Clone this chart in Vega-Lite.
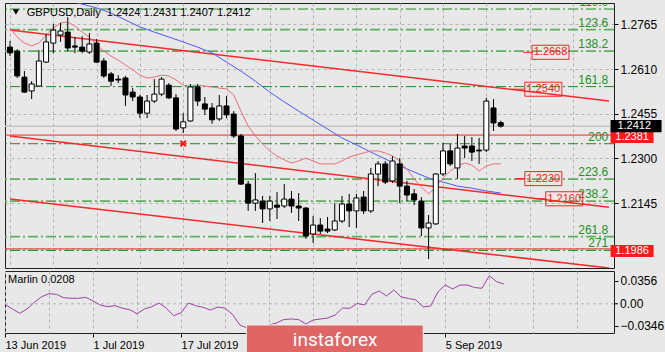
{
"$schema":"https://vega.github.io/schema/vega-lite/v6.json",
"background":"#e8e8e8",
"padding":{"left":3,"top":2,"right":0,"bottom":0},
"spacing":1,
"config":{"view":{"stroke":"#202020","strokeWidth":1,"fill":"#e8e8e8"},"font":"Liberation Sans","axis":{"labelFont":"Liberation Sans","labelColor":"#000000","tickColor":"#000000"}},
"datasets":{
"candles":[
{"i":0,"o":1.2686,"h":1.2707,"l":1.2655,"c":1.2666},
{"i":1,"o":1.2672,"h":1.2679,"l":1.2579,"c":1.2586},
{"i":2,"o":1.2582,"h":1.2603,"l":1.2527,"c":1.2530},
{"i":3,"o":1.2534,"h":1.2568,"l":1.2506,"c":1.2558},
{"i":4,"o":1.2551,"h":1.2676,"l":1.2548,"c":1.2638},
{"i":5,"o":1.2634,"h":1.2731,"l":1.2631,"c":1.2704},
{"i":6,"o":1.2700,"h":1.2766,"l":1.2665,"c":1.2745},
{"i":7,"o":1.2728,"h":1.2770,"l":1.2704,"c":1.2742},
{"i":8,"o":1.2738,"h":1.2790,"l":1.2672,"c":1.2683},
{"i":9,"o":1.2690,"h":1.2721,"l":1.2665,"c":1.2686},
{"i":10,"o":1.2686,"h":1.2724,"l":1.2665,"c":1.2672},
{"i":11,"o":1.2669,"h":1.2735,"l":1.2662,"c":1.2697},
{"i":12,"o":1.2700,"h":1.2714,"l":1.2631,"c":1.2634},
{"i":13,"o":1.2638,"h":1.2648,"l":1.2579,"c":1.2586},
{"i":14,"o":1.2593,"h":1.2600,"l":1.2551,"c":1.2568},
{"i":15,"o":1.2575,"h":1.2589,"l":1.2561,"c":1.2572},
{"i":16,"o":1.2579,"h":1.2586,"l":1.2482,"c":1.2520},
{"i":17,"o":1.2530,"h":1.2544,"l":1.2499,"c":1.2513},
{"i":18,"o":1.2513,"h":1.2520,"l":1.2440,"c":1.2457},
{"i":19,"o":1.2457,"h":1.2520,"l":1.2440,"c":1.2499},
{"i":20,"o":1.2499,"h":1.2575,"l":1.2492,"c":1.2523},
{"i":21,"o":1.2523,"h":1.2582,"l":1.2516,"c":1.2575},
{"i":22,"o":1.2554,"h":1.2561,"l":1.2506,"c":1.2510},
{"i":23,"o":1.2510,"h":1.2523,"l":1.2395,"c":1.2402},
{"i":24,"o":1.2406,"h":1.2457,"l":1.2388,"c":1.2427},
{"i":25,"o":1.2430,"h":1.2558,"l":1.2427,"c":1.2548},
{"i":26,"o":1.2548,"h":1.2558,"l":1.2482,"c":1.2499},
{"i":27,"o":1.2489,"h":1.2513,"l":1.2451,"c":1.2471},
{"i":28,"o":1.2475,"h":1.2492,"l":1.2420,"c":1.2434},
{"i":29,"o":1.2437,"h":1.2520,"l":1.2430,"c":1.2482},
{"i":30,"o":1.2482,"h":1.2516,"l":1.2440,"c":1.2451},
{"i":31,"o":1.2454,"h":1.2464,"l":1.2371,"c":1.2378},
{"i":32,"o":1.2378,"h":1.2385,"l":1.2208,"c":1.2211},
{"i":33,"o":1.2211,"h":1.2222,"l":1.2118,"c":1.2145},
{"i":34,"o":1.2145,"h":1.2249,"l":1.2118,"c":1.2156},
{"i":35,"o":1.2152,"h":1.2170,"l":1.2076,"c":1.2125},
{"i":36,"o":1.2125,"h":1.2170,"l":1.2083,"c":1.2152},
{"i":37,"o":1.2138,"h":1.2183,"l":1.2090,"c":1.2131},
{"i":38,"o":1.2135,"h":1.2211,"l":1.2128,"c":1.2159},
{"i":39,"o":1.2159,"h":1.2187,"l":1.2111,"c":1.2135},
{"i":40,"o":1.2135,"h":1.2180,"l":1.2083,"c":1.2128},
{"i":41,"o":1.2128,"h":1.2131,"l":1.2021,"c":1.2031},
{"i":42,"o":1.2038,"h":1.2100,"l":1.2007,"c":1.2069},
{"i":43,"o":1.2069,"h":1.2093,"l":1.2038,"c":1.2048},
{"i":44,"o":1.2055,"h":1.2097,"l":1.2041,"c":1.2048},
{"i":45,"o":1.2052,"h":1.2145,"l":1.2048,"c":1.2083},
{"i":46,"o":1.2083,"h":1.2170,"l":1.2076,"c":1.2142},
{"i":47,"o":1.2142,"h":1.2177,"l":1.2062,"c":1.2118},
{"i":48,"o":1.2118,"h":1.2177,"l":1.2059,"c":1.2163},
{"i":49,"o":1.2166,"h":1.2187,"l":1.2107,"c":1.2118},
{"i":50,"o":1.2118,"h":1.2267,"l":1.2111,"c":1.2246},
{"i":51,"o":1.2246,"h":1.2291,"l":1.2204,"c":1.2281},
{"i":52,"o":1.2281,"h":1.2291,"l":1.2211,"c":1.2218},
{"i":53,"o":1.2222,"h":1.2308,"l":1.2215,"c":1.2291},
{"i":54,"o":1.2281,"h":1.2301,"l":1.2145,"c":1.2204},
{"i":55,"o":1.2204,"h":1.2222,"l":1.2152,"c":1.2173},
{"i":56,"o":1.2177,"h":1.2194,"l":1.2138,"c":1.2156},
{"i":57,"o":1.2152,"h":1.2166,"l":1.2031,"c":1.2059},
{"i":58,"o":1.2059,"h":1.2104,"l":1.1951,"c":1.2076},
{"i":59,"o":1.2073,"h":1.2249,"l":1.2069,"c":1.2246},
{"i":60,"o":1.2246,"h":1.2353,"l":1.2239,"c":1.2326},
{"i":61,"o":1.2326,"h":1.2350,"l":1.2274,"c":1.2281},
{"i":62,"o":1.2267,"h":1.2385,"l":1.2229,"c":1.2336},
{"i":63,"o":1.2343,"h":1.2378,"l":1.2301,"c":1.2336},
{"i":64,"o":1.2343,"h":1.2374,"l":1.2291,"c":1.2322},
{"i":65,"o":1.2329,"h":1.2371,"l":1.2281,"c":1.2326},
{"i":66,"o":1.2329,"h":1.2510,"l":1.2322,"c":1.2499},
{"i":67,"o":1.2475,"h":1.2506,"l":1.2395,"c":1.2423},
{"i":68,"o":1.2424,"h":1.2431,"l":1.2407,"c":1.2412}
],
"pink":[{"i":0,"p":1.2752},{"i":1,"p":1.2721},{"i":2,"p":1.2700},{"i":3,"p":1.2690},{"i":4,"p":1.2700},{"i":5,"p":1.2728},{"i":6,"p":1.2752},{"i":7,"p":1.2770},{"i":8,"p":1.2773},{"i":9,"p":1.2759},{"i":10,"p":1.2738},{"i":11,"p":1.2721},{"i":12,"p":1.2693},{"i":13,"p":1.2672},{"i":14,"p":1.2655},{"i":15,"p":1.2641},{"i":16,"p":1.2624},{"i":17,"p":1.2607},{"i":18,"p":1.2589},{"i":19,"p":1.2579},{"i":20,"p":1.2582},{"i":21,"p":1.2589},{"i":22,"p":1.2586},{"i":23,"p":1.2572},{"i":24,"p":1.2554},{"i":25,"p":1.2551},{"i":26,"p":1.2554},{"i":27,"p":1.2551},{"i":28,"p":1.2548},{"i":29,"p":1.2544},{"i":30,"p":1.2541},{"i":31,"p":1.2520},{"i":32,"p":1.2464},{"i":33,"p":1.2412},{"i":34,"p":1.2378},{"i":35,"p":1.2350},{"i":36,"p":1.2326},{"i":37,"p":1.2308},{"i":38,"p":1.2295},{"i":39,"p":1.2284},{"i":40,"p":1.2291},{"i":41,"p":1.2301},{"i":42,"p":1.2291},{"i":43,"p":1.2281},{"i":44,"p":1.2281},{"i":45,"p":1.2281},{"i":46,"p":1.2291},{"i":47,"p":1.2305},{"i":48,"p":1.2312},{"i":49,"p":1.2319},{"i":50,"p":1.2326},{"i":51,"p":1.2326},{"i":52,"p":1.2319},{"i":53,"p":1.2308},{"i":54,"p":1.2291},{"i":55,"p":1.2263},{"i":56,"p":1.2229},{"i":57,"p":1.2201},{"i":58,"p":1.2177},{"i":59,"p":1.2201},{"i":60,"p":1.2232},{"i":61,"p":1.2256},{"i":62,"p":1.2274},{"i":63,"p":1.2284},{"i":64,"p":1.2277},{"i":65,"p":1.2256},{"i":66,"p":1.2274},{"i":67,"p":1.2281},{"i":68,"p":1.2281}],
"blue":[{"i":5,"p":1.2873},{"i":8,"p":1.2849},{"i":10,"p":1.2835},{"i":12,"p":1.2822},{"i":14,"p":1.2804},{"i":16,"p":1.2780},{"i":18,"p":1.2756},{"i":20,"p":1.2738},{"i":22,"p":1.2721},{"i":24,"p":1.2704},{"i":26,"p":1.2686},{"i":28,"p":1.2666},{"i":30,"p":1.2634},{"i":32,"p":1.2603},{"i":34,"p":1.2568},{"i":36,"p":1.2530},{"i":38,"p":1.2496},{"i":40,"p":1.2464},{"i":42,"p":1.2433},{"i":44,"p":1.2402},{"i":46,"p":1.2371},{"i":48,"p":1.2347},{"i":50,"p":1.2322},{"i":52,"p":1.2298},{"i":54,"p":1.2274},{"i":56,"p":1.2253},{"i":58,"p":1.2232},{"i":60,"p":1.2218},{"i":62,"p":1.2204},{"i":64,"p":1.2197},{"i":66,"p":1.2187},{"i":68,"p":1.2180}],
"trend":[{"t":"a","i":0,"p":1.2745},{"t":"a","i":83,"p":1.2499},{"t":"b","i":0,"p":1.2378},{"t":"b","i":83,"p":1.2131},{"t":"c","i":0,"p":1.2159},{"t":"c","i":83,"p":1.1920}],
"fib":[{"lvl":"110.0","p":1.2818},{"lvl":"123.6","p":1.2747},{"lvl":"138.2","p":1.2672},{"lvl":"161.8","p":1.2549},{"lvl":"200","p":1.2351},{"lvl":"223.6","p":1.2228},{"lvl":"238.2","p":1.2152},{"lvl":"261.8","p":1.2029},{"lvl":"271","p":1.1981}],
"hlines":[{"p":1.2381},{"p":1.1986}],
"bid":[{"p":1.2412}],
"plabels":[{"p":1.2668,"i":74.9,"i0":71.1},{"p":1.2540,"i":73.9,"i0":69.5},{"p":1.2230,"i":73.9,"i0":70.0},{"p":1.2160,"i":76.8,"i0":72.9}],
"marlin":[{"i":0,"v":-0.0008},{"i":1,"v":-0.0081},{"i":2,"v":-0.0148},{"i":3,"v":-0.0081},{"i":4,"v":0.0023},{"i":5,"v":0.0111},{"i":6,"v":0.0158},{"i":7,"v":0.0148},{"i":8,"v":0.0095},{"i":9,"v":0.0086},{"i":10,"v":0.0086},{"i":11,"v":0.0101},{"i":12,"v":0.0044},{"i":13,"v":-0.0019},{"i":14,"v":-0.0045},{"i":15,"v":-0.0030},{"i":16,"v":-0.0070},{"i":17,"v":-0.0092},{"i":18,"v":-0.0154},{"i":19,"v":-0.0081},{"i":20,"v":-0.0045},{"i":21,"v":0.0012},{"i":22,"v":-0.0070},{"i":23,"v":-0.0186},{"i":24,"v":-0.0139},{"i":25,"v":0.0012},{"i":26,"v":-0.0030},{"i":27,"v":-0.0055},{"i":28,"v":-0.0097},{"i":29,"v":-0.0050},{"i":30,"v":-0.0070},{"i":31,"v":-0.0164},{"i":32,"v":-0.0331},{"i":33,"v":-0.0378},{"i":34,"v":-0.0409},{"i":35,"v":-0.0393},{"i":36,"v":-0.0331},{"i":37,"v":-0.0300},{"i":38,"v":-0.0245},{"i":39,"v":-0.0237},{"i":40,"v":-0.0245},{"i":41,"v":-0.0315},{"i":42,"v":-0.0253},{"i":43,"v":-0.0237},{"i":44,"v":-0.0222},{"i":45,"v":-0.0175},{"i":46,"v":-0.0066},{"i":47,"v":-0.0070},{"i":48,"v":0.0005},{"i":49,"v":-0.0019},{"i":50,"v":0.0148},{"i":51,"v":0.0200},{"i":52,"v":0.0122},{"i":53,"v":0.0215},{"i":54,"v":0.0106},{"i":55,"v":0.0083},{"i":56,"v":0.0059},{"i":57,"v":-0.0050},{"i":58,"v":-0.0034},{"i":59,"v":0.0184},{"i":60,"v":0.0293},{"i":61,"v":0.0231},{"i":62,"v":0.0293},{"i":63,"v":0.0293},{"i":64,"v":0.0254},{"i":65,"v":0.0242},{"i":66,"v":0.0438},{"i":67,"v":0.0345},{"i":68,"v":0.0309}]
},
"vconcat":[
{"width":609,"height":265,
"layer":[
{"data":{"name":"fib"},"mark":{"type":"rule","strokeDash":[10,3,2,3],"clip":true},
 "encoding":{"y":{"field":"p","type":"quantitative","title":null,"scale":{"domain":[1.1920,1.2839],"nice":false,"zero":false},
   "axis":{"orient":"right","values":[1.2765,1.2610,1.2455,1.2300,1.2145,1.1990],"labelExpr":"datum.value < 1.2 ? '' : format(datum.value, '.4f')","labelOverlap":false,"tickSize":4,"labelPadding":2,"labelFontSize":12,"domain":false,"grid":true,"gridDash":[3,3],"gridColor":"#b4b4b4","title":null}},
  "color":{"condition":{"test":"indexof(['123.6','138.2','223.6','238.2','261.8'], datum.lvl) >= 0","value":"#5cb05c"},"value":"#1f8a1f"},
  "strokeWidth":{"condition":{"test":"indexof(['123.6','138.2','223.6','238.2','261.8'], datum.lvl) >= 0","value":1.7},"value":1}}},
{"data":{"name":"fib"},"mark":{"type":"text","align":"right","baseline":"bottom","fontSize":12,"color":"#239023","clip":true},
 "encoding":{"x":{"datum":82.9},"y":{"field":"p","type":"quantitative","title":null},"text":{"field":"lvl"}}},
{"data":{"name":"bid"},"mark":{"type":"rule","color":"#c4c4c4","strokeWidth":1.5},"encoding":{"y":{"field":"p","type":"quantitative","title":null}}},
{"data":{"name":"hlines"},"mark":{"type":"rule","color":"#ff2020","strokeWidth":1},"encoding":{"y":{"field":"p","type":"quantitative","title":null}}},
{"data":{"name":"trend"},"mark":{"type":"line","color":"#f52a2a","strokeWidth":1.5,"clip":true},
 "encoding":{"x":{"field":"i","type":"quantitative","title":null,"scale":{"domain":[0,83],"nice":false,"zero":false},
   "axis":{"values":[0,6,12,18,24,30,36,42,48,54,60,66,72,78],"labels":false,"ticks":false,"domain":false,"grid":true,"gridDash":[3,3],"gridColor":"#b4b4b4","title":null}},
  "y":{"field":"p","type":"quantitative","title":null},"detail":{"field":"t"}}},
{"data":{"name":"blue"},"mark":{"type":"line","color":"#4a5cf2","strokeWidth":1,"clip":true},
 "encoding":{"x":{"field":"i","type":"quantitative","title":null},"y":{"field":"p","type":"quantitative","title":null}}},
{"data":{"name":"pink"},"mark":{"type":"line","color":"#ec6f7a","strokeWidth":1,"clip":true},
 "encoding":{"x":{"field":"i","type":"quantitative","title":null},"y":{"field":"p","type":"quantitative","title":null}}},
{"data":{"name":"plabels"},"mark":{"type":"rule","color":"#ff2020","strokeWidth":1,"x2Offset":-18},
 "encoding":{"x":{"field":"i0","type":"quantitative","title":null},"x2":{"field":"i"},"y":{"field":"p","type":"quantitative","title":null}}},
{"data":{"name":"plabels"},"mark":{"type":"point","shape":"M-1,-0.38L1,-0.38L1,0.38L-1,0.38Z","size":1369,"filled":false,"stroke":"#ff2020","strokeWidth":1,"opacity":1},
 "encoding":{"x":{"field":"i","type":"quantitative","title":null},"y":{"field":"p","type":"quantitative","title":null}}},
{"data":{"name":"plabels"},"mark":{"type":"text","fontSize":11,"color":"#ff2020","align":"center","baseline":"middle"},
 "encoding":{"x":{"field":"i","type":"quantitative","title":null},"y":{"field":"p","type":"quantitative","title":null},"text":{"field":"p","format":".4f"}}},
{"data":{"name":"candles"},"mark":{"type":"rule","color":"#000000","strokeWidth":1,"clip":true},
 "encoding":{"x":{"field":"i","type":"quantitative","title":null},"y":{"field":"l","type":"quantitative","title":null},"y2":{"field":"h"}}},
{"data":{"name":"candles"},"mark":{"type":"bar","size":5,"stroke":"#000000","strokeWidth":1,"clip":true},
 "encoding":{"x":{"field":"i","type":"quantitative","title":null},"y":{"field":"o","type":"quantitative","title":null},"y2":{"field":"c"},
  "fill":{"condition":{"test":"datum.c > datum.o","value":"#ffffff"},"value":"#000000"}}},
{"data":{"values":[{"i":24,"p":1.2352}]},"mark":{"type":"point","shape":"M-1,-1L1,1M-1,1L1,-1","size":30,"filled":false,"stroke":"#ff1010","strokeWidth":2,"opacity":1},
 "encoding":{"x":{"field":"i","type":"quantitative","title":null},"y":{"field":"p","type":"quantitative","title":null}}},
{"data":{"name":"hlines"},"mark":{"type":"point","shape":"M-1,-0.28L1,-0.28L1,0.28L-1,0.28Z","size":1849,"filled":true,"color":"#ff1a1a","opacity":1,"yOffset":2},
 "encoding":{"x":{"datum":86.2},"y":{"field":"p","type":"quantitative","title":null}}},
{"data":{"name":"hlines"},"mark":{"type":"text","fontSize":11,"color":"#ffffff","align":"center","baseline":"middle","dy":2},
 "encoding":{"x":{"datum":86.2},"y":{"field":"p","type":"quantitative","title":null},"text":{"field":"p","format":".4f"}}},
{"data":{"name":"bid"},"mark":{"type":"point","shape":"M-1,-0.24L1,-0.24L1,0.24L-1,0.24Z","size":2601,"filled":true,"color":"#000000","opacity":1},
 "encoding":{"x":{"datum":86.75},"y":{"field":"p","type":"quantitative","title":null}}},
{"data":{"name":"bid"},"mark":{"type":"text","fontSize":11,"color":"#ffffff","align":"center","baseline":"middle","dy":0},
 "encoding":{"x":{"datum":86.5},"y":{"field":"p","type":"quantitative","title":null},"text":{"field":"p","format":".4f"}}},
{"data":{"values":[{}]},"mark":{"type":"point","shape":"triangle-down","size":40,"filled":true,"color":"#000000","opacity":1},
 "encoding":{"x":{"datum":0.82},"y":{"datum":1.2808}}},
{"data":{"values":[{}]},"mark":{"type":"text","fontSize":11,"color":"#000000","align":"left","baseline":"middle"},
 "encoding":{"x":{"datum":2.32},"y":{"datum":1.2804},"text":{"value":"GBPUSD,Daily\u00a0 1.2424 1.2431 1.2407 1.2412"}}}
]},
{"width":609,"height":62,
"layer":[
{"data":{"values":[{}]},"mark":{"type":"rule","color":"#b4b4b4","strokeDash":[3,3],"strokeWidth":1},
 "encoding":{"y":{"datum":0}}},
{"data":{"name":"marlin"},"mark":{"type":"line","color":"#9e3fa8","strokeWidth":1,"clip":true},
 "encoding":{"x":{"field":"i","type":"quantitative","title":null,"scale":{"domain":[0,83],"nice":false,"zero":false},
   "axis":{"values":[0,6,12,18,24,30,36,42,48,54,60,66,72,78],"labelExpr":"datum.value==0?'13 Jun 2019':datum.value==12?'1 Jul 2019':datum.value==24?'17 Jul 2019':datum.value==60?'5 Sep 2019':''","labelAlign":"left","labelFlush":false,"labelOverlap":false,"labelBound":false,"labelFontSize":11,"labelPadding":2,"tickSize":4,"tickOpacity":{"condition":{"test":"datum.value % 12 === 0 && datum.value <= 60","value":1},"value":0},"domain":false,"grid":true,"gridDash":[3,3],"gridColor":"#b4b4b4","title":null}},
  "y":{"field":"v","type":"quantitative","title":null,"scale":{"domain":[-0.0456,0.0512],"nice":false,"zero":false},
   "axis":{"orient":"right","values":[0.0356,-0.0346],"format":".4f","labelOverlap":false,"labelFlush":false,"labelBound":false,"tickSize":4,"labelPadding":2,"labelFontSize":12,"domain":false,"grid":false,"title":null}}}},
{"data":{"values":[{}]},"mark":{"type":"rule","color":"#000000","strokeWidth":1,"clip":false},
 "encoding":{"x":{"datum":83},"x2":{"datum":83.55},"y":{"datum":0}}},
{"data":{"values":[{}]},"mark":{"type":"text","fontSize":12,"color":"#000000","align":"left","baseline":"middle","clip":false},
 "encoding":{"x":{"datum":83.82},"y":{"datum":0},"text":{"value":"0.00"}}},
{"data":{"values":[{}]},"mark":{"type":"text","fontSize":11,"color":"#000000","align":"left","baseline":"middle"},
 "encoding":{"x":{"datum":0.41},"y":{"datum":0.0376},"text":{"value":"Marlin 0.0208"}}},
{"data":{"values":[{}]},"mark":{"type":"rect","color":"#e06666","stroke":"#f2f2f2","strokeWidth":1,"clip":false},
 "encoding":{"x":{"datum":32.9},"x2":{"datum":57.0},"y":{"datum":-0.0331},"y2":{"datum":-0.085}}},
{"data":{"values":[{}]},"mark":{"type":"text","font":"Roboto","fontSize":19,"color":"#ffffff","align":"center","baseline":"middle"},
 "encoding":{"x":{"datum":45},"y":{"datum":-0.0565},"text":{"value":"instaforex"}}}
]}
]
}
